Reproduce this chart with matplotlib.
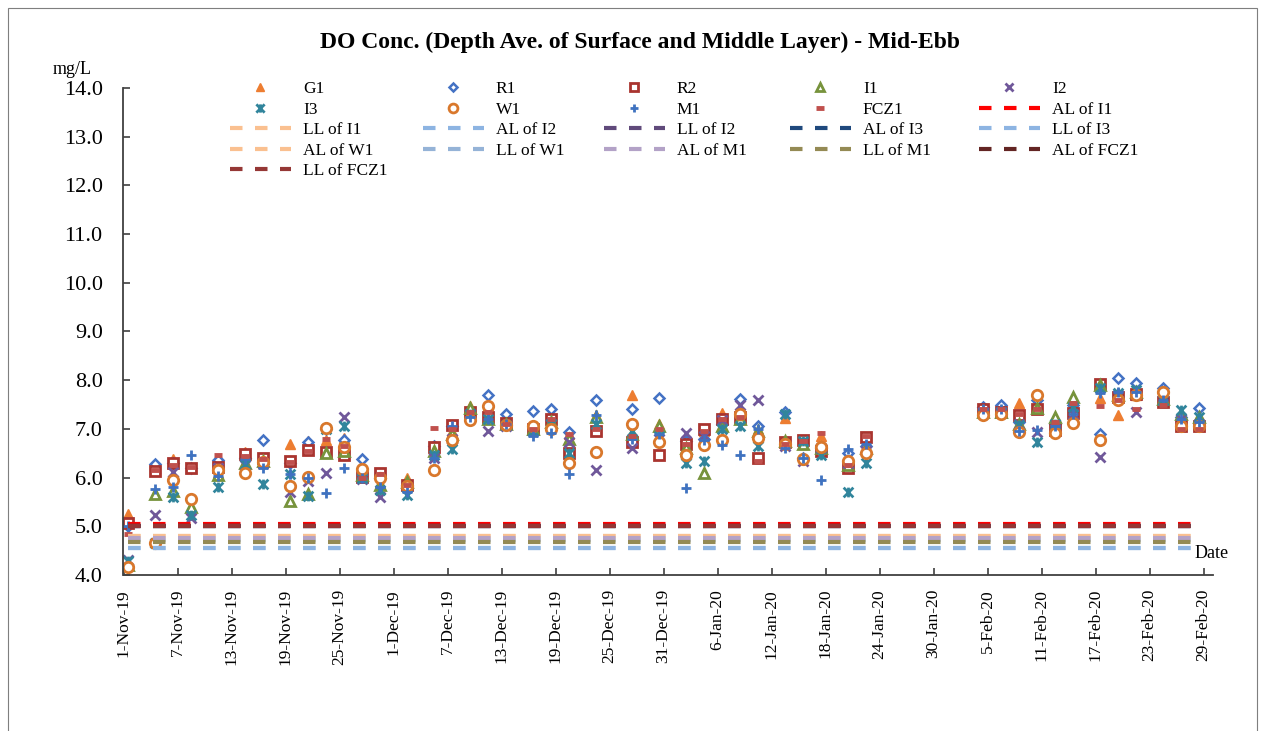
import pandas as pd
import matplotlib.pyplot as plt
from matplotlib.path import Path
from matplotlib.patches import Rectangle

plt.rcParams['font.family'] = ['Liberation Serif', 'DejaVu Serif']

# sampling dates and DO values (mg/L)
dates = ['2019-11-01', '2019-11-04', '2019-11-06', '2019-11-08', '2019-11-11', '2019-11-14',
         '2019-11-16', '2019-11-19', '2019-11-21', '2019-11-23', '2019-11-25', '2019-11-27',
         '2019-11-29', '2019-12-02', '2019-12-05', '2019-12-07', '2019-12-09', '2019-12-11',
         '2019-12-13', '2019-12-16', '2019-12-18', '2019-12-20', '2019-12-23', '2019-12-27',
         '2019-12-30', '2020-01-02', '2020-01-04', '2020-01-06', '2020-01-08', '2020-01-10',
         '2020-01-13', '2020-01-15', '2020-01-17', '2020-01-20', '2020-01-22', '2020-02-04',
         '2020-02-06', '2020-02-08', '2020-02-10', '2020-02-12', '2020-02-14', '2020-02-17',
         '2020-02-19', '2020-02-21', '2020-02-24', '2020-02-26', '2020-02-28']

G1 = [5.25, 6.20, 6.38, 6.20, 6.10, 6.52, 6.30, 6.70, 6.76, 6.77, 6.81, 6.10, 5.88, 5.99, 6.60, 6.95,
      7.46, 7.50, 7.10, 7.05, 7.20, 6.90, 7.29, 7.70, 7.11, 6.75, 6.95, 7.32, 7.20, 7.00, 7.22, 6.70,
      6.85, 6.40, 6.55, 7.35, 7.35, 7.53, 7.45, 7.20, 7.60, 7.63, 7.29, 7.70, 7.80, 7.30, 7.20]
R1 = [5.00, 6.27, 6.30, 6.20, 6.36, 6.40, 6.77, 6.30, 6.74, 7.00, 6.77, 6.38, 6.00, 5.85, 6.65, 7.05,
      7.30, 7.70, 7.31, 7.37, 7.41, 6.93, 7.59, 7.40, 7.63, 6.75, 6.80, 7.10, 7.61, 7.05, 7.35, 6.40,
      6.60, 6.50, 6.65, 7.44, 7.49, 7.15, 7.59, 7.10, 7.50, 6.90, 8.04, 7.94, 7.83, 7.25, 7.42]
R2 = [5.07, 6.14, 6.29, 6.19, 6.22, 6.48, 6.41, 6.34, 6.57, 6.53, 6.46, 6.02, 6.10, 5.85, 6.63, 7.08,
      7.35, 7.25, 7.12, 7.00, 7.20, 6.51, 6.96, 6.74, 6.46, 6.69, 6.99, 7.20, 7.25, 6.40, 6.74, 6.77,
      6.55, 6.19, 6.84, 7.40, 7.35, 7.29, 7.40, 6.98, 7.32, 7.92, 7.65, 7.72, 7.55, 7.05, 7.05]
I1 = [4.20, 5.66, 5.73, 5.39, 6.05, 6.30, 6.35, 5.52, 5.66, 6.50, 6.55, 6.05, 5.85, 5.90, 6.55, 6.90,
      7.42, 7.20, 7.10, 7.00, 7.15, 6.80, 7.25, 6.90, 7.05, 6.60, 6.09, 7.05, 7.20, 6.95, 6.75, 6.70,
      6.60, 6.25, 6.60, 7.35, 7.35, 7.10, 7.42, 7.25, 7.65, 7.90, 7.70, 7.75, 7.62, 7.30, 7.25]
I2 = [4.30, 5.23, 6.12, 5.18, 6.20, 6.25, 6.30, 5.71, 5.92, 6.10, 7.25, 5.98, 5.61, 5.80, 6.40, 6.80,
      7.30, 6.95, 7.05, 6.95, 7.10, 6.74, 6.16, 6.60, 6.80, 6.91, 6.85, 7.18, 7.50, 7.59, 6.65, 6.35,
      6.60, 6.30, 6.55, 7.35, 7.35, 7.10, 6.94, 7.00, 7.30, 6.43, 7.70, 7.35, 7.60, 7.20, 7.10]
I3 = [4.28, 4.65, 5.60, 5.23, 5.80, 6.28, 5.86, 6.07, 5.63, 7.00, 7.06, 6.00, 5.75, 5.64, 6.46, 6.58,
      7.30, 7.20, 7.08, 6.95, 7.10, 6.50, 7.11, 6.95, 6.85, 6.29, 6.35, 7.00, 7.06, 6.65, 7.30, 6.75,
      6.46, 5.70, 6.29, 7.30, 7.35, 7.08, 6.74, 7.10, 7.45, 7.85, 7.73, 7.80, 7.60, 7.39, 7.25]
W1 = [4.17, 4.65, 5.96, 5.57, 6.15, 6.10, 6.33, 5.83, 6.02, 7.01, 6.63, 6.17, 6.00, 5.82, 6.16, 6.77,
      7.18, 7.47, 7.08, 7.05, 6.99, 6.31, 6.52, 7.10, 6.74, 6.46, 6.67, 6.77, 7.30, 6.81, 6.70, 6.38,
      6.63, 6.35, 6.51, 7.29, 7.30, 6.94, 7.70, 6.92, 7.13, 6.77, 7.60, 7.70, 7.76, 7.05, 7.05]
M1 = [5.00, 5.76, 5.81, 6.46, 6.03, 6.38, 6.19, 6.07, 6.00, 5.68, 6.20, 6.00, 5.80, 5.70, 6.40, 7.05,
      7.25, 7.20, 7.10, 6.85, 6.92, 6.07, 7.29, 6.80, 6.90, 5.78, 6.77, 6.67, 6.46, 7.00, 6.60, 6.40,
      5.96, 6.58, 6.70, 7.40, 7.40, 6.95, 6.98, 7.05, 7.30, 7.73, 7.75, 7.75, 7.60, 7.20, 7.15]
FCZ1 = [4.85, 6.15, 6.25, 6.22, 6.46, 6.45, 6.38, 6.33, 6.55, 6.80, 6.65, 6.00, 6.08, 5.85, 7.01, 7.00,
        7.35, 7.35, 7.10, 7.00, 7.20, 6.90, 7.00, 6.85, 7.00, 6.70, 6.95, 7.20, 7.25, 6.35, 6.70, 6.75,
        6.91, 6.25, 6.85, 7.40, 7.40, 7.30, 7.40, 7.15, 7.53, 7.46, 7.60, 7.40, 7.49, 7.00, 7.00]

# action / limit levels
limit_names = ['AL of I1', 'LL of I1', 'AL of I2', 'LL of I2', 'AL of I3', 'LL of I3',
               'AL of W1', 'LL of W1', 'AL of M1', 'LL of M1', 'AL of FCZ1', 'LL of FCZ1']
limit_values = [5.05, 4.80, 4.55, 5.00, 5.00, 4.55, 4.80, 4.72, 4.75, 4.68, 5.00, 5.01]
limit_colors = ['#FF0000', '#FAC090', '#8DB4E2', '#604A7B', '#1F497D', '#8DB4E2',
                '#FAC090', '#95B3D7', '#B3A2C7', '#948A54', '#632523', '#953735']
limit_span = ['2019-11-01', '2020-02-28']

tick_labels = ['1-Nov-19', '7-Nov-19', '13-Nov-19', '19-Nov-19', '25-Nov-19', '1-Dec-19',
               '7-Dec-19', '13-Dec-19', '19-Dec-19', '25-Dec-19', '31-Dec-19', '6-Jan-20',
               '12-Jan-20', '18-Jan-20', '24-Jan-20', '30-Jan-20', '5-Feb-20', '11-Feb-20',
               '17-Feb-20', '23-Feb-20', '29-Feb-20']

# Excel-like "star" marker: x with a vertical bar
star = Path([(-1, -1), (1, 1), (-1, 1), (1, -1), (0, -1), (0, 1)],
            [Path.MOVETO, Path.LINETO] * 3)

half_day = pd.Timedelta(hours=12)
x = pd.to_datetime(dates) + half_day

W, H = 1262, 731
fig = plt.figure(figsize=(W / 100, H / 100), dpi=100)
ax = fig.add_axes([123.5 / W, 1 - 575 / H, (1212.5 - 123.5) / W, (575 - 88) / H])

handles = {}
handles['G1'], = ax.plot(x, G1, ls='none', marker='^', ms=7.5, color='#ED7D31', mec='#ED7D31')
handles['R1'], = ax.plot(x, R1, ls='none', marker='D', ms=5, mfc='white', mec='#4472C4', mew=1.8)
handles['R2'], = ax.plot(x, R2, ls='none', marker='s', ms=7, mfc='white', mec='#A9342F', mew=2)
handles['I1'], = ax.plot(x, I1, ls='none', marker='^', ms=7, mfc='white', mec='#77933C', mew=2)
handles['I2'], = ax.plot(x, I2, ls='none', marker='x', ms=6.5, color='#70589A', mew=2)
handles['I3'], = ax.plot(x, I3, ls='none', marker=star, ms=7, color='#31859C', mew=2)
handles['W1'], = ax.plot(x, W1, ls='none', marker='o', ms=7.5, mfc='white', mec='#D9782C', mew=2)
handles['M1'], = ax.plot(x, M1, ls='none', marker='+', ms=7, color='#3F72C0', mew=2)
handles['FCZ1'], = ax.plot(x, FCZ1, ls='none', marker='_', ms=6, color='#C0504D', mew=3.5)

span = pd.to_datetime(limit_span) + half_day
for name, val, col in zip(limit_names, limit_values, limit_colors):
    handles[name], = ax.plot(span, [val, val], color=col, lw=3, ls=(0, (3, 3)))

ax.set_ylim(4, 14)
ax.set_yticks(range(4, 15))
ax.set_yticklabels([f'{v:.1f}' for v in range(4, 15)], fontsize=16)
ax.set_xlim(pd.Timestamp('2019-11-01'), pd.Timestamp('2020-03-01'))
ax.set_xticks(pd.to_datetime(tick_labels, format='%d-%b-%y'))
ax.set_xticklabels(tick_labels, rotation=90, fontsize=12.5)
ax.tick_params(direction='in', length=5, width=1.2, color='#404040')
ax.tick_params(axis='x', pad=10)
ax.tick_params(axis='y', pad=15)
for side in ['top', 'right']:
    ax.spines[side].set_visible(False)
for side in ['left', 'bottom']:
    ax.spines[side].set_color('#404040')
    ax.spines[side].set_linewidth(1.3)

fig.text(640 / W, 1 - 42 / H, 'DO Conc. (Depth Ave. of Surface and Middle Layer) - Mid-Ebb',
         ha='center', va='center', fontsize=17, fontweight='bold')
fig.text(72 / W, 1 - 70 / H, 'mg/L', ha='center', va='center', fontsize=13)
fig.text(1212 / W, 1 - 553 / H, 'Date', ha='center', va='center', fontsize=13)

# legend in five columns, row-major like the original
order = ['G1', 'R1', 'R2', 'I1', 'I2', 'I3', 'W1', 'M1', 'FCZ1'] + limit_names
col_x = [230, 423, 604, 790, 979]
for c in range(5):
    names = order[c::5]
    fig.legend([handles[n] for n in names], names, loc='upper left',
               bbox_to_anchor=(col_x[c] / W, 1 - 81 / H), frameon=False,
               fontsize=12.5, handlelength=3.5, handletextpad=0.7, labelspacing=0.25,
               markerscale=0.85, borderpad=0, borderaxespad=0)

fig.patches.append(Rectangle((8 / W, -0.01), 1249 / W, 1 - 8 / H + 0.01,
                             transform=fig.transFigure, fill=False, ec='#7F7F7F', lw=0.8))

fig.savefig('out.png', dpi=100)
